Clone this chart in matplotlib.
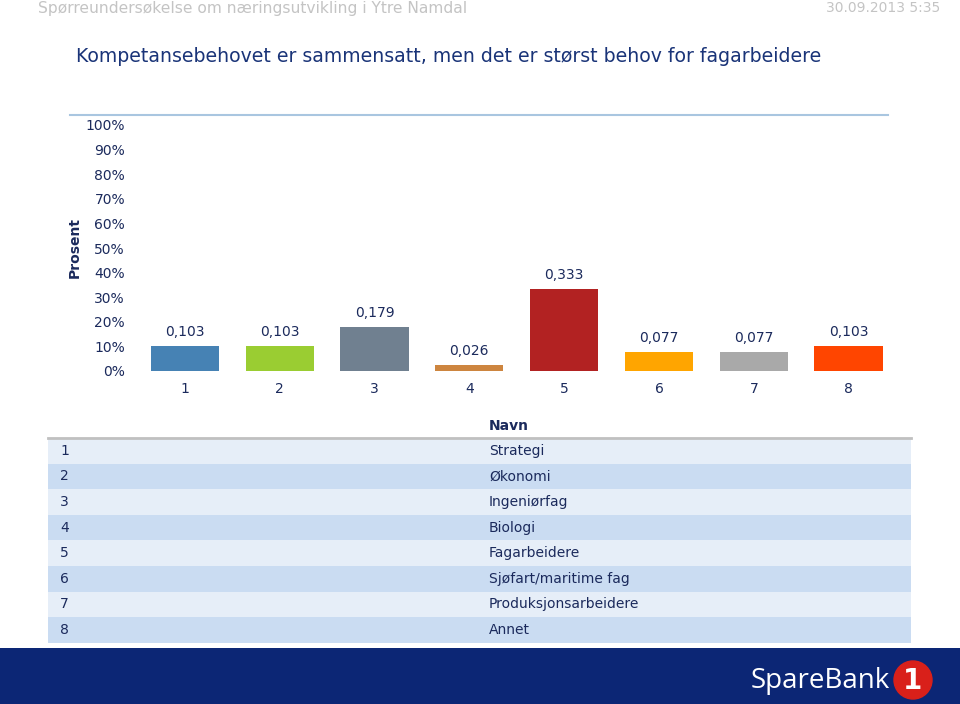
import matplotlib.pyplot as plt
from matplotlib.patches import Rectangle, Circle

# data
categories = ["1", "2", "3", "4", "5", "6", "7", "8"]
names = ["Strategi", "Økonomi", "Ingeniørfag", "Biologi", "Fagarbeidere",
         "Sjøfart/maritime fag", "Produksjonsarbeidere", "Annet"]
values = [0.103, 0.103, 0.179, 0.026, 0.333, 0.077, 0.077, 0.103]
bar_colors = ["#4682B4", "#9ACD32", "#708090", "#CD853F",
              "#B22222", "#FFA500", "#A9A9A9", "#FF4500"]
yticks = [i / 10 for i in range(11)]

W, H = 960, 704
NAVY = "#1b2a5c"


def fx(x):
    return x / W


def fy(y):
    return 1 - y / H


def main():
    plt.rcParams['font.family'] = ['DejaVu Sans']
    fig = plt.figure(figsize=(W / 100, H / 100), dpi=100)

    # header texts
    fig.text(fx(38), fy(8), "Spørreundersøkelse om næringsutvikling i Ytre Namdal",
             color="#c4c4c4", fontsize=11.2, ha="left", va="center")
    fig.text(fx(940), fy(8), "30.09.2013 5:35", color="#c4c4c4", fontsize=10,
             ha="right", va="center")
    fig.text(fx(76), fy(57),
             "Kompetansebehovet er sammensatt, men det er størst behov for fagarbeidere",
             color="#1a3478", fontsize=13.6, ha="left", va="center")

    # chart
    left, right, top, bottom = 137.5, 896, 125, 371
    ax = fig.add_axes([fx(left), fy(bottom), fx(right - left), (bottom - top) / H])
    x = list(range(1, len(categories) + 1))
    bars = ax.bar(x, values, width=0.72, color=bar_colors)
    for b, v in zip(bars, values):
        ax.annotate(f"{v:.3f}".replace(".", ","),
                    (b.get_x() + b.get_width() / 2, b.get_height()),
                    xytext=(0, 5), textcoords="offset points",
                    ha="center", va="bottom", fontsize=10, color=NAVY)
    ax.set_xlim(0.5, 8.5)
    ax.set_ylim(0, 1)
    ax.set_xticks(x)
    ax.set_xticklabels(categories)
    ax.set_yticks(yticks)
    ax.set_yticklabels([f"{int(round(t * 100))}%" for t in yticks])
    ax.tick_params(length=0, labelsize=10, labelcolor=NAVY)
    ax.tick_params(axis="y", pad=9)
    ax.tick_params(axis="x", pad=8)
    for s in ax.spines.values():
        s.set_visible(False)
    fig.text(fx(75), fy(248), "Prosent", rotation=90, ha="center", va="center",
             fontsize=10, fontweight="bold", color=NAVY)

    # overlay for lines, table and footer in pixel coordinates
    ov = fig.add_axes([0, 0, 1, 1], zorder=-1)
    ov.set_xlim(0, W)
    ov.set_ylim(H, 0)
    ov.axis("off")
    ov.plot([70, 888], [115, 115], color="#a9c6e0", lw=1.5)

    # table
    row_h = 25.6
    t_top = 438
    ov.text(489, 426, "Navn", fontsize=10, fontweight="bold", color=NAVY,
            ha="left", va="center")
    for i, (c, n) in enumerate(zip(categories, names)):
        y0 = t_top + i * row_h
        ov.add_patch(Rectangle((48, y0), 863, row_h,
                               color="#e6eef8" if i % 2 == 0 else "#cadcf2", lw=0))
        ov.text(60, y0 + row_h / 2, c, fontsize=10, color=NAVY, ha="left", va="center")
        ov.text(489, y0 + row_h / 2, n, fontsize=10, color=NAVY, ha="left", va="center")
    ov.plot([48, 911], [t_top, t_top], color="#c0c0c0", lw=2)

    # footer band with logo
    ov.add_patch(Rectangle((0, 648), W, H - 648, color="#0c2675", lw=0))
    ov.text(890, 681, "SpareBank", color="white", fontsize=20, ha="right",
            va="center", family=["Open Sans", "DejaVu Sans"])
    ov.add_patch(Circle((913, 680), 19, color="#d9201a"))
    ov.text(913, 681, "1", color="white", fontsize=20, fontweight="bold",
            ha="center", va="center")

    fig.savefig("out.png", dpi=100)


if __name__ == "__main__":
    main()
